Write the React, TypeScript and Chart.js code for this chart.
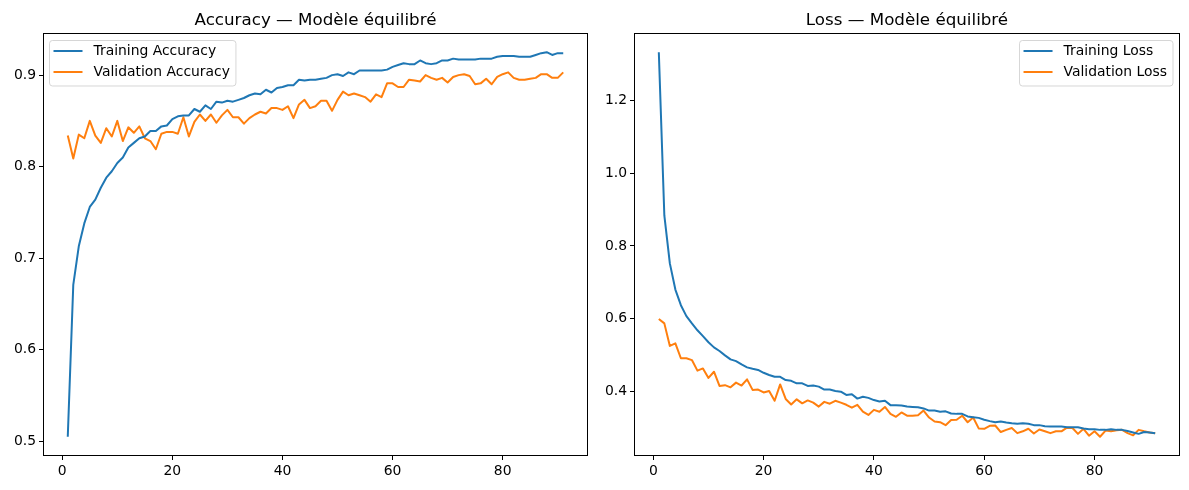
import React, { useEffect, useRef } from "react";
import { Chart, registerables } from "chart.js";

Chart.register(...registerables);

// ---------- DATA ----------
const epochs = Array.from({ length: 91 }, (_, i) => i + 1);

const trainAcc = [
  0.505, 0.671, 0.713, 0.738, 0.756, 0.764, 0.777, 0.788, 0.795, 0.804,
  0.810, 0.821, 0.826, 0.831, 0.833, 0.839, 0.839, 0.844, 0.845, 0.852,
  0.855, 0.856, 0.856, 0.863, 0.860, 0.867, 0.863, 0.871, 0.870, 0.872,
  0.871, 0.873, 0.875, 0.878, 0.880, 0.879, 0.884, 0.881, 0.886, 0.887,
  0.889, 0.889, 0.895, 0.894, 0.895, 0.895, 0.896, 0.897, 0.900, 0.901,
  0.899, 0.903, 0.901, 0.905, 0.905, 0.905, 0.905, 0.905, 0.906, 0.909,
  0.911, 0.913, 0.912, 0.912, 0.916, 0.913, 0.912, 0.913, 0.916, 0.916,
  0.918, 0.917, 0.917, 0.917, 0.917, 0.918, 0.918, 0.918, 0.920, 0.921,
  0.921, 0.921, 0.920, 0.920, 0.920, 0.922, 0.924, 0.925, 0.922, 0.924, 0.924,
];

const valAcc = [
  0.834, 0.809, 0.835, 0.831, 0.850, 0.834, 0.826, 0.842, 0.833, 0.850,
  0.828, 0.843, 0.837, 0.844, 0.831, 0.828, 0.819, 0.836, 0.838, 0.838,
  0.836, 0.854, 0.833, 0.849, 0.857, 0.850, 0.857, 0.848, 0.856, 0.862,
  0.854, 0.854, 0.847, 0.853, 0.857, 0.860, 0.858, 0.864, 0.864, 0.862,
  0.866, 0.853, 0.868, 0.873, 0.864, 0.866, 0.872, 0.872, 0.861, 0.873,
  0.882, 0.878, 0.880, 0.878, 0.876, 0.871, 0.879, 0.876, 0.891, 0.891,
  0.887, 0.887, 0.895, 0.894, 0.893, 0.900, 0.897, 0.895, 0.897, 0.892,
  0.898, 0.900, 0.901, 0.899, 0.890, 0.891, 0.896, 0.890, 0.898, 0.901,
  0.903, 0.897, 0.895, 0.895, 0.896, 0.897, 0.901, 0.901, 0.897, 0.897, 0.903,
];

const trainLoss = [
  1.333, 0.884, 0.752, 0.680, 0.637, 0.607, 0.587, 0.568, 0.552, 0.535,
  0.521, 0.511, 0.499, 0.488, 0.483, 0.474, 0.466, 0.462, 0.459, 0.451,
  0.445, 0.440, 0.440, 0.431, 0.429, 0.422, 0.422, 0.415, 0.416, 0.413,
  0.405, 0.405, 0.401, 0.399, 0.390, 0.392, 0.380, 0.385, 0.382, 0.376,
  0.372, 0.374, 0.362, 0.362, 0.361, 0.358, 0.357, 0.356, 0.353, 0.347,
  0.347, 0.344, 0.345, 0.339, 0.338, 0.338, 0.331, 0.329, 0.327, 0.322,
  0.318, 0.315, 0.317, 0.314, 0.312, 0.311, 0.312, 0.311, 0.307, 0.307,
  0.304, 0.303, 0.303, 0.303, 0.301, 0.301, 0.301, 0.298, 0.296, 0.296,
  0.294, 0.294, 0.296, 0.294, 0.294, 0.291, 0.287, 0.283, 0.288, 0.287, 0.285,
];

const valLoss = [
  0.599, 0.587, 0.525, 0.532, 0.491, 0.491, 0.486, 0.457, 0.463, 0.437,
  0.454, 0.415, 0.417, 0.411, 0.424, 0.416, 0.433, 0.404, 0.405, 0.397,
  0.401, 0.374, 0.419, 0.379, 0.364, 0.378, 0.367, 0.375, 0.369, 0.358,
  0.371, 0.366, 0.374, 0.369, 0.363, 0.355, 0.363, 0.344, 0.335, 0.349,
  0.344, 0.357, 0.338, 0.330, 0.342, 0.333, 0.333, 0.334, 0.347, 0.328,
  0.317, 0.315, 0.307, 0.321, 0.322, 0.333, 0.315, 0.328, 0.298, 0.297,
  0.305, 0.306, 0.288, 0.294, 0.299, 0.285, 0.290, 0.297, 0.284, 0.295,
  0.290, 0.285, 0.290, 0.290, 0.300, 0.299, 0.283, 0.297, 0.278, 0.290,
  0.275, 0.292, 0.290, 0.293, 0.294, 0.285, 0.279, 0.294, 0.290, 0.287, 0.285,
];

const xTicks = [0, 20, 40, 60, 80];
const accTicks = [0.5, 0.6, 0.7, 0.8, 0.9];
const lossTicks = [0.4, 0.6, 0.8, 1.0, 1.2];

const accTitle = "Accuracy — Modèle équilibré";
const lossTitle = "Loss — Modèle équilibré";
const accLabels = ["Training Accuracy", "Validation Accuracy"];
const lossLabels = ["Training Loss", "Validation Loss"];

// ---------- STYLE ----------
const BLUE = "#1f77b4";
const ORANGE = "#ff7f0e";
const FONT = "'DejaVu Sans', sans-serif";
const TICK_PX = 13.9;
const TITLE_PX = 16.7;

function withMargin(values: number[], m = 0.05) {
  const lo = Math.min(...values);
  const hi = Math.max(...values);
  const d = (hi - lo) * m;
  return { min: lo - d, max: hi + d };
}

const framePlugin = {
  id: "frame",
  afterDatasetsDraw(chart: any) {
    const { ctx, chartArea: a } = chart;
    ctx.save();
    ctx.strokeStyle = "#000";
    ctx.lineWidth = 1;
    const l = Math.round(a.left) + 0.5;
    const t = Math.round(a.top) + 0.5;
    const r = Math.round(a.right) - 0.5;
    const b = Math.round(a.bottom) - 0.5;
    ctx.strokeRect(l, t, r - l, b - t);
    ctx.restore();
  },
};

const titlePlugin = {
  id: "axTitle",
  afterDraw(chart: any, _args: any, opts: any) {
    const { ctx, chartArea: a } = chart;
    ctx.save();
    ctx.font = `${TITLE_PX}px ${FONT}`;
    ctx.fillStyle = "#000";
    ctx.textAlign = "center";
    ctx.textBaseline = "alphabetic";
    ctx.fillText(opts.text, (a.left + a.right) / 2, a.top - 8.5);
    ctx.restore();
  },
};

const boxLegendPlugin = {
  id: "boxLegend",
  afterDraw(chart: any, _args: any, opts: any) {
    const { ctx, chartArea: a } = chart;
    const items = chart.data.datasets.map((d: any) => ({ label: d.label, color: d.borderColor }));
    ctx.save();
    ctx.font = `${TICK_PX}px ${FONT}`;
    const textW = Math.max(...items.map((it: any) => ctx.measureText(it.label).width));
    const w = 44 + textW + 6;
    const h = 45.5;
    const x = opts.align === "right" ? a.right - 7 - w : a.left + 6.5;
    const y = a.top + 7.5;
    const r = 3;
    ctx.beginPath();
    ctx.moveTo(x + r, y);
    ctx.lineTo(x + w - r, y);
    ctx.quadraticCurveTo(x + w, y, x + w, y + r);
    ctx.lineTo(x + w, y + h - r);
    ctx.quadraticCurveTo(x + w, y + h, x + w - r, y + h);
    ctx.lineTo(x + r, y + h);
    ctx.quadraticCurveTo(x, y + h, x, y + h - r);
    ctx.lineTo(x, y + r);
    ctx.quadraticCurveTo(x, y, x + r, y);
    ctx.closePath();
    ctx.fillStyle = "rgba(255,255,255,0.8)";
    ctx.fill();
    ctx.strokeStyle = "rgba(204,204,204,0.8)";
    ctx.lineWidth = 1;
    ctx.stroke();
    items.forEach((it: any, i: number) => {
      const cy = y + 10.5 + i * 21;
      ctx.beginPath();
      ctx.strokeStyle = it.color;
      ctx.lineWidth = 2;
      ctx.moveTo(x + 4, cy);
      ctx.lineTo(x + 33, cy);
      ctx.stroke();
      ctx.fillStyle = "#000";
      ctx.textAlign = "left";
      ctx.textBaseline = "middle";
      ctx.fillText(it.label, x + 44, cy + 0.5);
    });
    ctx.restore();
  },
};

type PanelProps = {
  left: number;
  width: number;
  yAxisWidth: number;
  padRight: number;
  title: string;
  labels: string[];
  train: number[];
  val: number[];
  yTicks: number[];
  legendAlign: "left" | "right";
};

function Panel(p: PanelProps) {
  const ref = useRef<HTMLCanvasElement | null>(null);
  useEffect(() => {
    if (!ref.current) return;
    const yr = withMargin([...p.train, ...p.val]);
    const xr = withMargin(epochs);
    const chart = new Chart(ref.current, {
      type: "line",
      data: {
        datasets: [
          {
            label: p.labels[0],
            data: epochs.map((e, i) => ({ x: e, y: p.train[i] })),
            borderColor: BLUE,
            backgroundColor: BLUE,
            borderWidth: 2,
            pointRadius: 0,
            tension: 0,
            borderJoinStyle: "round",
          },
          {
            label: p.labels[1],
            data: epochs.map((e, i) => ({ x: e, y: p.val[i] })),
            borderColor: ORANGE,
            backgroundColor: ORANGE,
            borderWidth: 2,
            pointRadius: 0,
            tension: 0,
            borderJoinStyle: "round",
          },
        ],
      },
      options: {
        responsive: false,
        animation: false,
        devicePixelRatio: 1,
        layout: { padding: { top: 33, right: p.padRight, left: 0, bottom: 0 } },
        plugins: {
          legend: { display: false },
          title: { display: false },
          tooltip: { enabled: false },
          axTitle: { text: p.title },
          boxLegend: { align: p.legendAlign },
        } as any,
        scales: {
          x: {
            type: "linear",
            min: xr.min,
            max: xr.max,
            afterBuildTicks: (s: any) => {
              s.ticks = xTicks.map((v) => ({ value: v }));
            },
            afterFit: (s: any) => {
              s.height = 34;
            },
            grid: { drawOnChartArea: false, drawTicks: true, tickLength: 4, color: "#000", lineWidth: 1 },
            border: { display: false },
            ticks: {
              color: "#000",
              padding: 3,
              maxRotation: 0,
              autoSkip: false,
              font: { family: FONT, size: TICK_PX },
              callback: (v: any) => String(v),
            },
          },
          y: {
            type: "linear",
            min: yr.min,
            max: yr.max,
            afterBuildTicks: (s: any) => {
              s.ticks = p.yTicks.map((v) => ({ value: v }));
            },
            afterFit: (s: any) => {
              s.width = p.yAxisWidth;
            },
            grid: { drawOnChartArea: false, drawTicks: true, tickLength: 4, color: "#000", lineWidth: 1 },
            border: { display: false },
            ticks: {
              color: "#000",
              padding: 3,
              autoSkip: false,
              font: { family: FONT, size: TICK_PX },
              callback: (v: any) => Number(v).toFixed(1),
            },
          },
        },
      },
      plugins: [framePlugin, titlePlugin, boxLegendPlugin],
    });
    return () => chart.destroy();
  }, []);
  return (
    <div style={{ position: "absolute", left: p.left, top: 0, width: p.width, height: 490 }}>
      <canvas ref={ref} width={p.width} height={490} style={{ display: "block", width: p.width, height: 490 }} />
    </div>
  );
}

export default function App() {
  return (
    <div
      style={{
        position: "fixed",
        left: 0,
        top: 0,
        width: 1189,
        height: 490,
        background: "#fff",
        overflow: "hidden",
      }}
    >
      <Panel
        left={0}
        width={594}
        yAxisWidth={43}
        padRight={6}
        title={accTitle}
        labels={accLabels}
        train={trainAcc}
        val={valAcc}
        yTicks={accTicks}
        legendAlign="left"
      />
      <Panel
        left={594}
        width={595}
        yAxisWidth={40}
        padRight={9}
        title={lossTitle}
        labels={lossLabels}
        train={trainLoss}
        val={valLoss}
        yTicks={lossTicks}
        legendAlign="right"
      />
    </div>
  );
}
